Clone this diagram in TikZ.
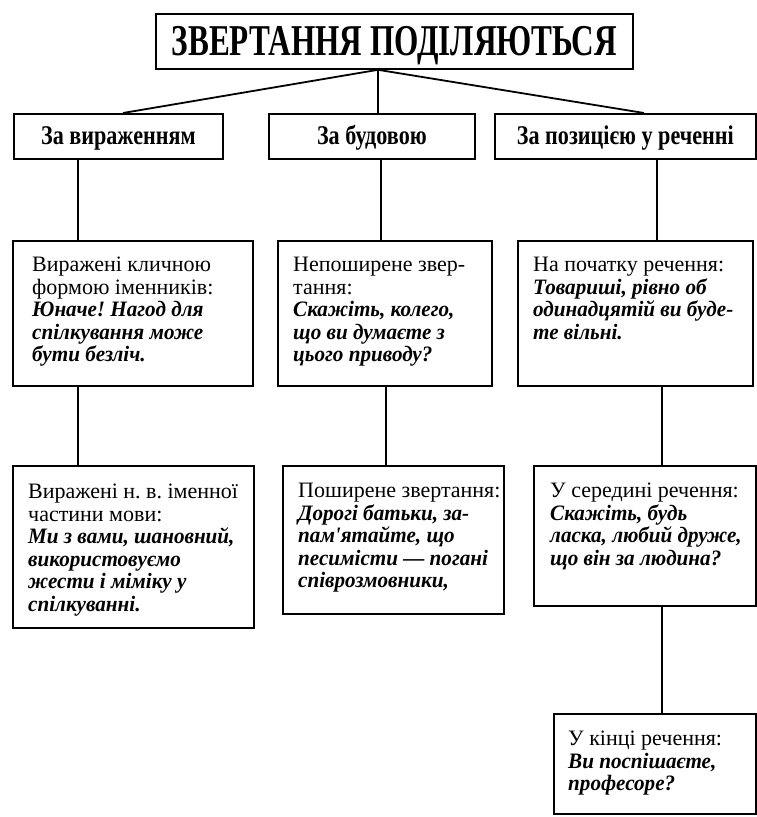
\documentclass[tikz,border=0pt]{standalone}
\usepackage{fontspec}
\setmainfont{Liberation Serif}
\newfontfamily\titlefont[FakeStretch=0.71]{Liberation Serif}
\newfontfamily\headfont[FakeStretch=0.82]{Liberation Serif}
\newfontfamily\exfont[FakeStretch=0.96]{Liberation Serif}
\usetikzlibrary{calc}
\frenchspacing
\tikzset{
  box/.style={draw, line width=1.8pt, inner sep=0pt, anchor=north west},
  txt/.style={anchor=north west, inner sep=0pt, align=left, font=\fontsize{22}{22.5}\selectfont},
  conn/.style={line width=1.8pt},
  headtxt/.style={font=\headfont\bfseries\fontsize{27}{29}\selectfont, text height=18pt, text depth=2pt},
}
\newcommand{\exm}[1]{{\exfont\bfseries\itshape #1}}
\begin{document}
\begin{tikzpicture}[x=1pt,y=-1pt]
\path[fill=white, use as bounding box] (0,0) rectangle (757,817);
% boxes
\node[box, minimum width=477pt, minimum height=55pt, text height=32pt, text depth=3pt,
      font=\titlefont\bfseries\fontsize{44}{46}\selectfont] (t) at (155,13)
  {ЗВЕРТАННЯ ПОДІЛЯЮТЬСЯ};
\node[box, headtxt, minimum width=209pt, minimum height=45pt] (l1a) at (13,113) {За вираженням};
\node[box, headtxt, minimum width=206pt, minimum height=45pt] (l1b) at (268,113) {За будовою};
\node[box, headtxt, minimum width=261pt, minimum height=45pt] (l1c) at (494,113) {За позицією у реченні};
\node[box, minimum width=240pt, minimum height=145pt] (l2a) at (12,240) {};
\node[box, minimum width=214pt, minimum height=145pt] (l2b) at (277,240) {};
\node[box, minimum width=235pt, minimum height=145pt] (l2c) at (517,240) {};
\node[box, minimum width=241pt, minimum height=162pt] (l3a) at (12,465) {};
\node[box, minimum width=221pt, minimum height=148pt] (l3b) at (282,465) {};
\node[box, minimum width=222pt, minimum height=140pt] (l3c) at (533,465) {};
\node[box, minimum width=202pt, minimum height=100pt] (l4) at (553,713) {};
% texts
\node[txt] (t2a) at (32,257) {Виражені кличною\\формою іменників:\\\exm{Юначе! Нагод для}\\\exm{спілкування може}\\\exm{бути безліч.}};
\node[txt] (t2b) at (293,257) {Непоширене звер-\\тання:\\\exm{Скажіть, колего,}\\\exm{що ви думаєте з}\\\exm{цього приводу?}};
\node[txt] (t2c) at (533,257) {На початку речення:\\\exm{Товариші, рівно об}\\\exm{одинадцятій ви буде-}\\\exm{те вільні.}};
\node[txt] (t3a) at (28,484) {Виражені н. в. іменної\\частини мови:\\\exm{Ми з вами, шановний,}\\\exm{використовуємо}\\\exm{жести і міміку у}\\\exm{спілкуванні.}};
\node[txt] (t3b) at (298,483) {Поширене звертання:\\\exm{Дорогі батьки, за-}\\\exm{пам'ятайте, що}\\\exm{песимісти — погані}\\\exm{співрозмовники,}};
\node[txt] (t3c) at (550,483) {У середині речення:\\\exm{Скажіть, будь}\\\exm{ласка, любий друже,}\\\exm{що він за людина?}};
\node[txt] (t4) at (568,731) {У кінці речення:\\\exm{Ви поспішаєте,}\\\exm{професоре?}};
% connector x positions
\coordinate (tx) at (378,0);
\coordinate (ya) at (123,0);
\coordinate (yc) at (644,0);
\coordinate (xa) at (78,0);
\coordinate (xb1) at (381,0);
\coordinate (xb2) at (386,0);
\coordinate (xc1) at (657,0);
\coordinate (xc2) at (662,0);
% connectors
\draw[conn] (t.south -| tx) -- (l1a.north -| ya);
\draw[conn] (t.south -| tx) -- (l1b.north -| tx);
\draw[conn] (t.south -| tx) -- (l1c.north -| yc);
\draw[conn] (l1a.south -| xa) -- (l2a.north -| xa);
\draw[conn] (l2a.south -| xa) -- (l3a.north -| xa);
\draw[conn] (l1b.south -| xb1) -- (l2b.north -| xb1);
\draw[conn] (l2b.south -| xb2) -- (l3b.north -| xb2);
\draw[conn] (l1c.south -| xc1) -- (l2c.north -| xc1);
\draw[conn] (l2c.south -| xc2) -- (l3c.north -| xc2);
\draw[conn] (l3c.south -| xc2) -- (l4.north -| xc2);
\end{tikzpicture}
\end{document}
